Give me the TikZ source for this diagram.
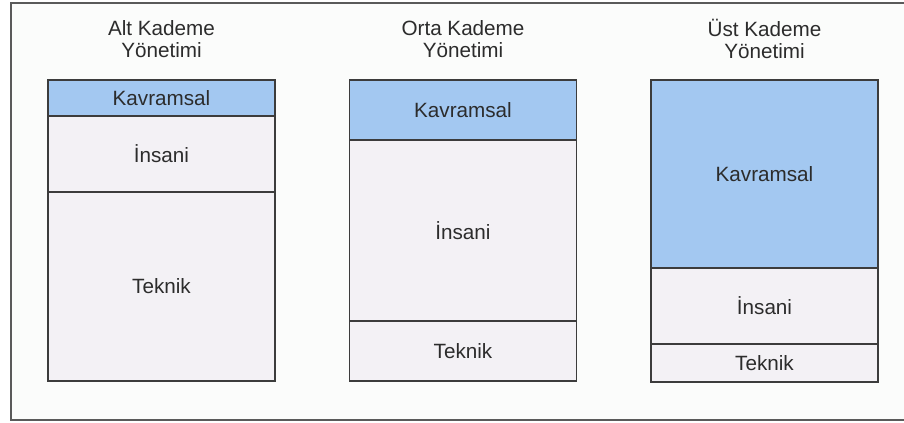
\documentclass[tikz,border=0pt]{standalone}
\usepackage{fontspec}
\setmainfont{Liberation Sans}
\usetikzlibrary{positioning}
\definecolor{kavblue}{HTML}{A3C8F1}
\definecolor{katgrey}{HTML}{F3F1F5}
\definecolor{boxline}{HTML}{3C3C3C}
\definecolor{framegrey}{HTML}{5A5A5A}
\definecolor{labeltext}{HTML}{2C2C2C}
\definecolor{paper}{HTML}{FBFCFB}

\begin{document}
\begin{tikzpicture} [x=0.75pt, y=-0.75pt, node distance=0pt,
  kat/.style={rectangle, draw=boxline, line width=1.3pt, outer sep=0pt, inner sep=0pt, minimum width=170.25pt, text=labeltext, font=\fontsize{15.5}{17}\selectfont},
  kavram/.style={kat, fill=kavblue},
  diger/.style={kat, fill=katgrey},
  baslik/.style={align=center, text=labeltext, font=\fontsize{15.5}{16.5}\selectfont}]
\useasboundingbox (0,0) rectangle (904,423);
% cerceve
\fill [paper] (11,3) rectangle (904,420);
\draw [framegrey, line width=1.5pt] (904,3) -- (11,3) -- (11,420) -- (904,420);
% alt kademe
\node (alt-b) [baslik] at (161.5,39) {Alt Kademe\\ Yönetimi};
\node (alt-k) [kavram, anchor=north, minimum height=27pt] at (161.5,80) {Kavramsal};
\node (alt-i) [diger, below = of alt-k, minimum height=57pt] {İnsani};
\node (alt-t) [diger, below = of alt-i, minimum height=141.75pt] {Teknik};
% orta kademe
\node (orta-b) [baslik] at (463,39) {Orta Kademe\\ Yönetimi};
\node (orta-k) [kavram, anchor=north, minimum height=45pt] at (463,80) {Kavramsal};
\node (orta-i) [diger, below = of orta-k, minimum height=135.75pt] {İnsani};
\node (orta-t) [diger, below = of orta-i, minimum height=45pt] {Teknik};
% ust kademe
\node (ust-b) [baslik] at (764.5,39) {Üst Kademe\\ Yönetimi};
\node (ust-k) [kavram, anchor=north, minimum height=141pt] at (764.5,80) {Kavramsal};
\node (ust-i) [diger, below = of ust-k, minimum height=57pt] {İnsani};
\node (ust-t) [diger, below = of ust-i, minimum height=28.5pt] {Teknik};
\end{tikzpicture}
\end{document}
